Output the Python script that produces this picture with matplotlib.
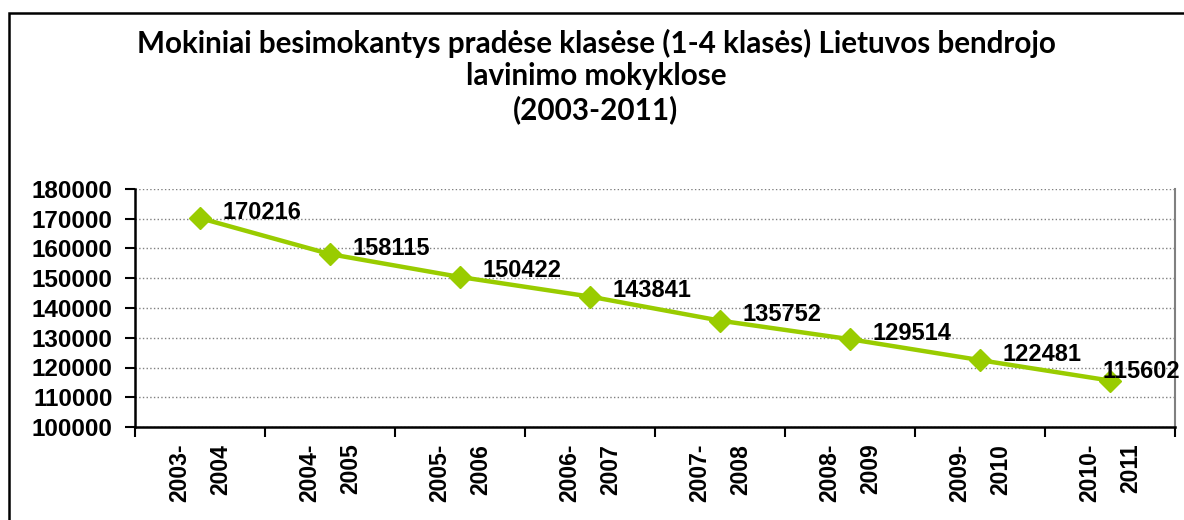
import matplotlib
matplotlib.use('Agg')
import matplotlib.pyplot as plt
from matplotlib.patches import Rectangle

# Data
years = ['2003-\n2004', '2004-\n2005', '2005-\n2006', '2006-\n2007',
         '2007-\n2008', '2008-\n2009', '2009-\n2010', '2010-\n2011']
students = [170216, 158115, 150422, 143841, 135752, 129514, 122481, 115602]
y_ticks = list(range(100000, 180001, 10000))

fig = plt.figure(figsize=(11.84, 5.2), dpi=100)
ax = fig.add_axes([135 / 1184, 93 / 520, 1040 / 1184, 238 / 520])

x = list(range(len(years)))
ax.plot(x, students, color='#99CC00', linewidth=3.2, marker='D', markersize=11,
        zorder=3, clip_on=False)

# data labels, last one pulled back to fit inside the plot area
for i, v in enumerate(students):
    dx = 22 if i < len(students) - 1 else -8
    dy = 6 if i < len(students) - 1 else 9
    ax.annotate(str(v), (i, v), xytext=(dx, dy), textcoords='offset pixels',
                ha='left', va='center', fontsize=17, fontweight='bold',
                family='Liberation Sans', zorder=4)

ax.set_xlim(-0.5, len(years) - 0.5)
ax.set_ylim(100000, 180000)
ax.set_yticks(y_ticks)
ax.set_yticklabels([str(t) for t in y_ticks], fontsize=17.5, fontweight='bold',
                   family='Liberation Sans')

# category labels between boundary ticks
ax.set_xticks([i - 0.5 for i in range(len(years) + 1)])
ax.set_xticklabels([])
ax.set_xticks(x, minor=True)
ax.set_xticklabels(years, minor=True, rotation=90, fontsize=16.5,
                   fontweight='bold', family='Liberation Sans',
                   multialignment='right', va='top', ha='center',
                   linespacing=2.0)
ax.tick_params(axis='x', which='minor', length=0, pad=12)
ax.tick_params(axis='x', which='major', length=7, width=1.5, direction='out')
ax.tick_params(axis='y', length=7, width=1.5, direction='out', pad=9)

ax.grid(axis='y', color='#808080', linestyle=':', linewidth=1)
ax.set_axisbelow(True)
for side in ['left', 'bottom']:
    ax.spines[side].set_linewidth(1.8)
    ax.spines[side].set_color('black')
ax.spines['right'].set_color('#808080')
ax.spines['right'].set_linewidth(1.5)
ax.spines['top'].set_visible(False)

# title
title_lines = ['Mokiniai besimokantys pradėse klasėse (1-4 klasės) Lietuvos bendrojo',
               'lavinimo mokyklose', '(2003-2011)']
for k, line in enumerate(title_lines):
    fig.text(596 / 1184, 1 - (43 + 33.5 * k) / 520, line, ha='center', va='center',
             fontsize=21.3, fontweight='bold', family='Lato')

# outer chart frame
fig.patches.append(Rectangle((9 / 1184, -0.1), 1.2, 1.1 - 13 / 520,
                             transform=fig.transFigure, fill=False,
                             edgecolor='black', linewidth=1.8, clip_on=False))

fig.savefig('out.png', dpi=100)
